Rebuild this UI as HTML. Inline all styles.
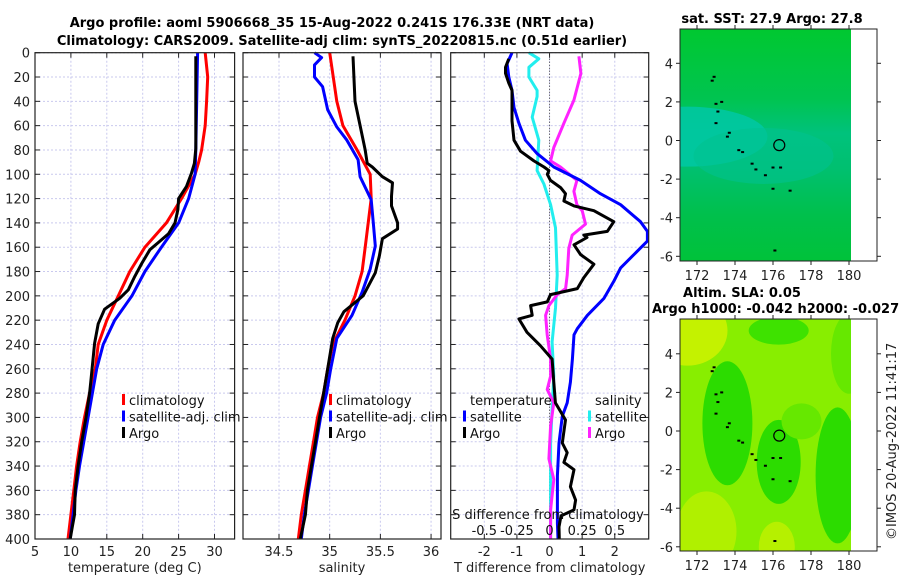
<!DOCTYPE html>
<html><head><meta charset="utf-8">
<style>
html,body{margin:0;padding:0;background:#fff;}
svg{display:block;font-family:"DejaVu Sans","Liberation Sans",sans-serif;}
</style></head>
<body>
<svg id="fig" width="900" height="580" viewBox="0 0 900 580" xmlns="http://www.w3.org/2000/svg">
<g id="panels"></g>
<g id="titles">
<text x="332" y="27" text-anchor="middle" font-size="13" font-weight="bold">Argo profile: aoml 5906668_35 15-Aug-2022 0.241S 176.33E (NRT data)</text>
<text x="342" y="45" text-anchor="middle" font-size="13" font-weight="bold">Climatology: CARS2009. Satellite-adj clim: synTS_20220815.nc (0.51d earlier)</text>
<text x="772" y="23" text-anchor="middle" font-size="13" font-weight="bold">sat. SST: 27.9 Argo: 27.8</text>
<text x="742" y="297" text-anchor="middle" font-size="13" font-weight="bold">Altim. SLA: 0.05</text>
<text x="652" y="313" font-size="13" font-weight="bold">Argo h1000: -0.042 h2000: -0.027</text>
<text transform="translate(896,540) rotate(-90)" font-size="13" fill="#222">©IMOS 20-Aug-2022 11:41:17</text>
</g>
</svg>
<script>
// ---------- data ----------
const depthTicks = [0,20,40,60,80,100,120,140,160,180,200,220,240,260,280,300,320,340,360,380,400];
const tTicks = [5,10,15,20,25,30];
const sTicks = [34.5,35,35.5,36];
const dTicks = [-2,-1,0,1,2];
const sdTickLabels = ["-0.5","-0.25","0","0.25","0.5"];
const sdTickValues = [-0.5,-0.25,0,0.25,0.5];

const climTDepth = [0,20,40,60,80,90,100,120,140,160,180,200,220,240,260,280,300,320,340,360,380,400];
const climT = [28.7,29.05,28.9,28.7,28.2,27.8,27.3,25.4,23.3,20.3,18.2,16.6,15.0,13.8,13.4,12.6,11.9,11.3,10.8,10.4,10.0,9.6];
const satTDepth = [0,80,100,120,140,160,180,200,220,240,260,280,300,320,340,360,380,400];
const satT = [27.65,27.4,27.3,26.4,25.0,22.6,20.3,18.5,16.1,14.5,13.6,13.0,12.4,11.8,11.2,10.7,10.3,9.9];
const argoTDepth = [3,79,91,99,110,120,129,140,149,156,162,173,184,195,202,211,223,239,269,280,300,320,340,360,380,390,400];
const argoT = [27.4,27.4,27.2,26.8,26.1,25.0,24.9,24.5,23.6,22.2,21.0,19.9,18.9,18.0,16.8,14.7,13.8,13.3,12.8,12.6,12.1,11.5,11.0,10.6,10.5,10.2,9.9];

const climSDepth = [0,40,60,80,100,120,140,160,180,200,220,240,260,280,300,320,340,360,380,400];
const climS = [35.0,35.07,35.13,35.27,35.40,35.41,35.38,35.35,35.32,35.25,35.15,35.03,34.98,34.94,34.88,34.84,34.80,34.76,34.72,34.69];
const satSDepth = [0,4,10,20,28,47,61,72,88,102,121,140,159,178,197,216,235,260,280,300,320,340,360,380,400];
const satS = [34.85,34.92,34.85,34.85,34.93,34.98,35.07,35.17,35.28,35.30,35.41,35.43,35.45,35.40,35.32,35.22,35.07,35.01,34.97,34.91,34.87,34.83,34.79,34.75,34.72];
const argoSDepth = [3,40,60,80,91,94,102,107,118,126,140,145,153,167,181,200,213,222,235,260,280,300,320,340,360,380,400];
const argoS = [35.23,35.25,35.30,35.35,35.37,35.42,35.52,35.62,35.61,35.61,35.67,35.67,35.52,35.49,35.45,35.33,35.14,35.08,35.03,34.98,34.94,34.90,34.86,34.82,34.78,34.76,34.71];

const satTdDepth = [0,9,20,31,45,58,72,83,94,105,116,125,139,147,155,166,177,188,202,216,227,232,252,271,288,299,321,348,387,400];
const satTd = [-1.15,-1.3,-1.25,-1.15,-1.09,-0.94,-0.74,-0.38,0.13,0.95,1.56,2.18,2.79,3.0,3.0,2.59,2.18,1.97,1.67,1.16,0.85,0.75,0.70,0.64,0.54,0.39,0.29,0.24,0.24,0.26];
const argoTdDepth = [5,12,17,25,31,56,72,81,89,94,97,100,105,111,116,122,126,130,139,147,150,152,158,166,174,185,194,199,205,208,216,219,230,241,252,271,288,302,321,329,337,343,357,368,376,381,390,400];
const argoTd = [-1.25,-1.35,-1.35,-1.25,-1.15,-1.15,-1.09,-0.89,-0.48,-0.17,-0.02,-0.07,0.03,0.34,0.49,0.44,0.75,1.36,1.97,1.77,1.05,1.15,0.75,0.95,1.36,1.05,0.85,0.03,-0.07,-0.58,-0.53,-0.94,-0.69,-0.28,0.08,0.13,0.18,0.49,0.39,0.54,0.44,0.75,0.64,0.80,0.75,0.35,0.29,0.30];
const satSdDepth = [0,5,12,20,31,36,53,72,97,108,125,144,183,210,238,266,293,321,348,390,400];
const satSd = [-0.158,-0.082,-0.158,-0.158,-0.095,-0.095,-0.133,-0.082,-0.095,-0.043,0.008,0.046,0.059,0.046,0.020,0.033,0.020,0.008,0.008,0.008,0.008];
const argoSdDepth = [3,17,39,58,78,89,94,105,114,125,130,141,150,161,183,194,199,208,216,232,252,266,277,288,307,334,351,376,390,400];
const argoSd = [0.225,0.24,0.187,0.11,0.033,0.008,0.084,0.21,0.187,0.21,0.25,0.276,0.174,0.148,0.135,0.123,0.059,-0.005,-0.03,-0.018,0.008,0.008,-0.018,0.033,0.008,-0.005,0.033,0.008,0.008,0.008];

const latTicks = [4,2,0,-2,-4,-6];
const lonTicks = [172,174,176,178,180];
const islandLon = [172.8,172.9,173.0,173.1,173.0,173.3,173.6,173.7,174.2,174.4,174.9,175.1,175.6,176.0,176.0,176.4,176.9,176.1];
const islandLat = [3.1,3.3,1.9,1.5,0.9,2.0,0.2,0.4,-0.5,-0.6,-1.2,-1.5,-1.8,-1.4,-2.5,-1.4,-2.6,-5.7];
const argoLon = [176.33];
const argoLat = [-0.241];

// ---------- drawing ----------
const NS="http://www.w3.org/2000/svg";
const root=document.getElementById('panels');
function el(tag,attrs,parent){const e=document.createElementNS(NS,tag);for(const k in attrs)e.setAttribute(k,attrs[k]);(parent||root).appendChild(e);return e;}
const Y0=52.7, Y1=539;
function yD(d){return Y0+(d/400)*(Y1-Y0);}

function makePanel(name,x0,x1,vmin,vmax,xt,xtLabels,showY,xlabel){
  const g=el('g',{});
  
  
  const xs=v=>x0+(v-vmin)/(vmax-vmin)*(x1-x0);
  depthTicks.forEach(d=>{const l=el('line',{x1:x0,x2:x1,y1:yD(d),y2:yD(d),stroke:'#c9c9ee','stroke-width':1,'stroke-dasharray':'2,2'},g);
    });
  xt.forEach(v=>{const l=el('line',{x1:xs(v),x2:xs(v),y1:Y0,y2:Y1,stroke:'#c9c9ee','stroke-width':1,'stroke-dasharray':'2,2'},g);
    });
  depthTicks.forEach(d=>{
    el('line',{x1:x0,x2:x0+5,y1:yD(d),y2:yD(d),stroke:'#222'},g);
    el('line',{x1:x1-5,x2:x1,y1:yD(d),y2:yD(d),stroke:'#222'},g);
    if(showY){const t=el('text',{x:x0-5,y:yD(d)+5,'text-anchor':'end','font-size':13,fill:'#222'},g);t.textContent=d;
      }
  });
  xt.forEach((v,i)=>{
    el('line',{x1:xs(v),x2:xs(v),y1:Y1,y2:Y1-5,stroke:'#222'},g);
    el('line',{x1:xs(v),x2:xs(v),y1:Y0,y2:Y0+5,stroke:'#222'},g);
    const t=el('text',{x:xs(v),y:Y1+17,'text-anchor':'middle','font-size':13,fill:'#222'},g);t.textContent=xtLabels[i];
    
  });
  const xl=el('text',{x:(x0+x1)/2,y:572,'text-anchor':'middle','font-size':13,fill:'#222'},g);xl.textContent=xlabel;
  
  return {g,xs,x0,x1};
}
function line(p,vals,deps,color,name,w){
  const d=vals.map((v,i)=>(i?'L':'M')+p.xs(v).toFixed(1)+','+yD(deps[i]).toFixed(1)).join(' ');
  const e=el('path',{d:d,fill:'none',stroke:color,'stroke-width':w||3,'stroke-linejoin':'round'},p.g);
  
  
}
function frame(p){el('rect',{x:p.x0,y:Y0,width:p.x1-p.x0,height:Y1-Y0,fill:'none',stroke:'#222','stroke-width':1.2},p.g);}
function legend(p,x,y,items,name){
  const g=el('g',{},p.g);
  
  
  items.forEach((it,i)=>{
    if(it[0]) el('rect',{x:x,y:y+i*16.5-11,width:3,height:11,fill:it[0]},g);
    const t=el('text',{x:x+7,y:y+i*16.5,'font-size':13,fill:'#111'},g);t.textContent=it[1];
  });
}

const p1=makePanel('temperature-panel',35,234.6,5,32.8,tTicks,tTicks.map(String),true,'temperature (deg C)');
line(p1,climT,climTDepth,'#ff0000','climatology-temp-line');
line(p1,satT,satTDepth,'#0000ff','satellite-temp-line');
line(p1,argoT,argoTDepth,'#000000','argo-temp-line');
frame(p1);
legend(p1,122,405,[['#ff0000','climatology'],['#0000ff','satellite-adj. clim'],['#000','Argo']],'temperature-legend');

const p2=makePanel('salinity-panel',243,441,34.145,36.098,sTicks,sTicks.map(String),false,'salinity');
line(p2,climS,climSDepth,'#ff0000','climatology-salinity-line');
line(p2,satS,satSDepth,'#0000ff','satellite-salinity-line');
line(p2,argoS,argoSDepth,'#000000','argo-salinity-line');
frame(p2);
legend(p2,329,405,[['#ff0000','climatology'],['#0000ff','satellite-adj. clim'],['#000','Argo']],'salinity-legend');

const p3=makePanel('difference-panel',450.7,648.7,-3.03,3.04,dTicks,dTicks.map(String),false,'T difference from climatology');
const z=el('line',{x1:p3.xs(0),x2:p3.xs(0),y1:Y0,y2:Y1,stroke:'#444','stroke-dasharray':'1,2'},p3.g);

const sdScale=v=>v*4;
line(p3,satSd.map(sdScale),satSdDepth,'#22eeee','satellite-salinity-diff-line');
line(p3,argoSd.map(sdScale),argoSdDepth,'#ff22ff','argo-salinity-diff-line');
line(p3,satTd,satTdDepth,'#0000ff','satellite-temp-diff-line');
line(p3,argoTd,argoTdDepth,'#000000','argo-temp-diff-line');
frame(p3);
legend(p3,463,405,[[null,'temperature'],['#0000ff','satellite'],['#000','Argo']],'temp-diff-legend');
legend(p3,588,405,[[null,'salinity'],['#22eeee','satellite'],['#ff22ff','Argo']],'salinity-diff-legend');
const st=el('text',{x:548,y:519,'text-anchor':'middle','font-size':13,fill:'#111'},p3.g);st.textContent='S difference from climatology';

sdTickValues.forEach((v,i)=>{const t=el('text',{x:p3.xs(v*4),y:535,'text-anchor':'middle','font-size':13,fill:'#111'},p3.g);t.textContent=sdTickLabels[i];
  });

// maps
function makeMap(name,top,bot,yZero,kind){
  const g=el('g',{});
  
  
  const x0=680,x1=877,xi=851;
  const lonX=l=>697+(l-172)*19;
  const latY=l=>yZero-l*19.3;
  const id='clip'+kind;
  const cp=el('clipPath',{id:id},g);el('rect',{x:x0,y:top,width:xi-x0,height:bot-top},cp);
  const mg=el('g',{'clip-path':'url(#'+id+')'},g);
  const E=(lon,lat,rx,ry,fill,op)=>el('ellipse',{cx:lonX(lon),cy:latY(lat),rx:rx,ry:ry,fill:fill,opacity:op||1},mg);
  if(kind==='sst'){
    const defs=el('defs',{},g);
    const lg=el('linearGradient',{id:'sstg',x1:0,y1:0,x2:0,y2:1},defs);
    [['0','#00c830'],['0.3','#00c450'],['0.45','#00c27c'],['0.6','#00c070'],['0.8','#00c04c'],['1','#00c23a']].forEach(s=>el('stop',{offset:s[0],'stop-color':s[1]},lg));
    el('rect',{x:x0,y:top,width:xi-x0,height:bot-top,fill:'url(#sstg)'},mg);
    E(171.5,0.2,80,30,'#00c8a4',0.85);
    E(175.5,-0.8,70,28,'#00c290',0.6);
  } else {
    el('rect',{x:x0,y:top,width:xi-x0,height:bot-top,fill:'#88ee00'},mg);
    E(171.5,5.2,40,35,'#c4f200');
    E(172.5,-5.2,30,40,'#b0f000');
    E(176.2,-6,18,25,'#b6f000');
    E(176.3,5.2,30,14,'#3ee200');
    E(180,4,18,40,'#66e800');
    E(173.6,0.4,25,62,'#2cdc00');
    E(176.3,-1.6,22,42,'#2cdc00');
    E(179.4,-2.3,22,68,'#2cdc00');
    E(177.5,0.5,20,18,'#66e800');
  }
  islandLon.forEach((l,i)=>{const c=el('rect',{x:lonX(l)-1.5,y:latY(islandLat[i])-1,width:3,height:2,fill:'#000'},g);
    });
  argoLon.forEach((l,i)=>{const c=el('circle',{cx:lonX(l),cy:latY(argoLat[i]),r:5.5,fill:'none',stroke:'#000','stroke-width':1.2},g);
    });
  el('rect',{x:x0,y:top,width:x1-x0,height:bot-top,fill:'none',stroke:'#222'},g);
  latTicks.forEach(l=>{const y=latY(l);
    el('line',{x1:x0-4,x2:x0,y1:y,y2:y,stroke:'#222'},g);el('line',{x1:x1,x2:x1+4,y1:y,y2:y,stroke:'#222'},g);
    const t=el('text',{x:x0-7,y:y+5,'text-anchor':'end','font-size':13,fill:'#222'},g);t.textContent=l;
    });
  lonTicks.forEach(l=>{const x=lonX(l);
    el('line',{x1:x,x2:x,y1:bot,y2:bot+4,stroke:'#222'},g);el('line',{x1:x,x2:x,y1:top-4,y2:top,stroke:'#222'},g);
    const t=el('text',{x:x,y:bot+19,'text-anchor':'middle','font-size':13,fill:'#222'},g);t.textContent=l;
    });
}
makeMap('sst-map',29,261,140.5,'sst');
makeMap('sla-map',319,551,431,'sla');
</script>
</body></html>
